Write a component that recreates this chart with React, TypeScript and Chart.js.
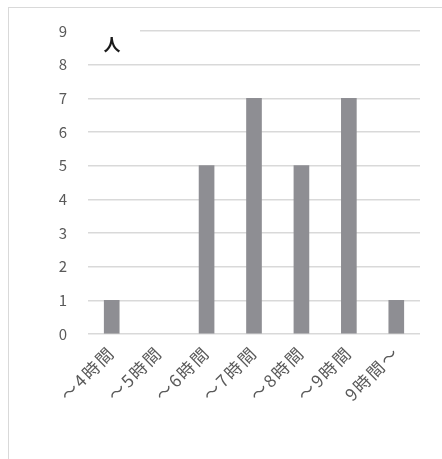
import React, { useEffect, useRef } from "react";
import { Chart, registerables } from "chart.js";

Chart.register(...registerables);

const categories = ["～4時間", "～5時間", "～6時間", "～7時間", "～8時間", "～9時間", "9時間～"];
const values = [1, 0, 5, 7, 5, 7, 1];
const yTicks = [0, 1, 2, 3, 4, 5, 6, 7, 8, 9];
const unitLabel = "人";

const FONT = "'Noto Sans CJK JP', 'Noto Sans', sans-serif";

const unitPlugin = {
  id: "unitLabel",
  beforeDatasetsDraw(chart: any) {
    const { ctx, chartArea, scales } = chart;
    const y9 = scales.y.getPixelForValue(9);
    ctx.save();
    ctx.fillStyle = "#ffffff";
    ctx.fillRect(chartArea.left - 2, y9 - 3, 54, 30);
    ctx.fillStyle = "#1a1a1a";
    ctx.font = `bold 17px ${FONT}`;
    ctx.textAlign = "center";
    ctx.textBaseline = "middle";
    ctx.fillText(unitLabel, chartArea.left + 25, y9 + 14);
    ctx.restore();
  },
};

const spacingPlugin = {
  id: "labelSpacing",
  beforeDraw(chart: any) {
    (chart.ctx as any).letterSpacing = "2px";
  },
  afterDraw(chart: any) {
    (chart.ctx as any).letterSpacing = "0px";
  },
};

export default function App() {
  const ref = useRef<HTMLCanvasElement>(null);
  useEffect(() => {
    if (!ref.current) return;
    const chart = new Chart(ref.current, {
      type: "bar",
      data: {
        labels: categories,
        datasets: [
          {
            data: values.map((v) => (v === 0 ? null : v)),
            backgroundColor: "#8e8e93",
            barThickness: 15,
          },
        ],
      },
      options: {
        animation: false,
        responsive: false,
        maintainAspectRatio: false,
        layout: { padding: { top: 23, right: 22, left: 0, bottom: 0 } },
        plugins: { legend: { display: false }, tooltip: { enabled: false } },
        scales: {
          x: {
            grid: { display: false, drawTicks: false },
            border: { display: false },
            ticks: {
              color: "#595959",
              font: { family: FONT, size: 17 },
              minRotation: 45,
              maxRotation: 45,
              padding: 8,
            },
            afterFit(scale: any) {
              scale.height = 125;
            },
          },
          y: {
            min: 0,
            max: 9,
            afterBuildTicks(scale: any) {
              scale.ticks = yTicks.map((v) => ({ value: v }));
            },
            grid: { color: "#d9d9d9", lineWidth: 1.5, drawTicks: false },
            border: { display: false },
            ticks: {
              color: "#595959",
              font: { family: FONT, size: 15 },
              padding: 19,
            },
            afterFit(scale: any) {
              scale.width = 79;
              scale.paddingTop = 0;
              scale.paddingBottom = 0;
            },
          },
        },
      },
      plugins: [spacingPlugin, unitPlugin],
    });
    return () => chart.destroy();
  }, []);

  return (
    <div
      style={{
        position: "absolute",
        left: 8,
        top: 7,
        width: 460,
        height: 470,
        borderTop: "1.5px solid #d9d9d9",
        borderLeft: "1.5px solid #d9d9d9",
        background: "#fff",
      }}
    >
      <canvas ref={ref} width={433} height={451} style={{ display: "block" }} />
    </div>
  );
}
